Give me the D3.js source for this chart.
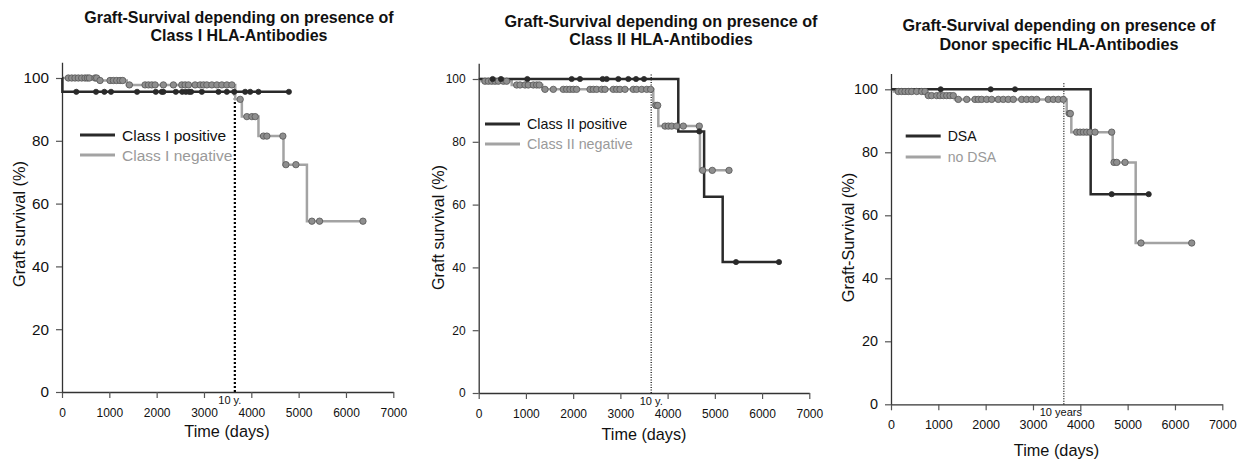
<!DOCTYPE html>
<html>
<head>
<meta charset="utf-8">
<script src="https://cdn.jsdelivr.net/npm/d3@7"></script>
<style>
  html, body { margin: 0; padding: 0; background: #fff; }
  svg { display: block; font-family: "Liberation Sans", Arial, Helvetica, sans-serif; }
</style>
</head>
<body>
<svg id="chart" width="1242" height="462"></svg>
<script>
// ---- Kaplan-Meier data (days, survival %) ----
// Step arrays: [time at which the estimate changes, new survival]
const classIPositiveSteps = [[0, 100], [8, 95.6]];
const classIPositiveCensored = [302, 719, 895, 1036, 1586, 1982, 2108, 2142, 2405, 2540, 2617, 2686, 2728, 2955, 3306, 3483, 3638, 3870, 3976, 4151, 4794];

const classINegativeSteps = [[0, 100], [768, 99.2], [1368, 97.8], [3660, 93.2], [3800, 87.7], [4151, 81.5], [4680, 72.4], [5175, 54.4]];
const classINegativeCensored = [134, 205, 275, 345, 416, 486, 536, 578, 698, 733,
  804, 1015, 1085, 1156, 1227, 1283,
  1424, 1755, 1826, 1897, 1967, 2142, 2354, 2531, 2601, 2672, 2813, 2919, 2989, 3060, 3166, 3272, 3377, 3483, 3589,
  3765, 3906, 4012, 4082, 4257, 4329, 4667, 4731, 4942, 5280, 5442, 6359];

const classIIPositiveSteps = [[0, 100], [4226, 83.3], [4773, 62.5], [5166, 41.7]];
const classIIPositiveCensored = [296, 472, 1029, 1969, 2145, 2625, 2710, 2956, 3168, 3331, 3500, 4671, 5448, 6358];

const classIINegativeSteps = [[0, 100], [60, 99.3], [699, 98.1], [1347, 96.7], [3697, 91.6], [3803, 85.0], [4685, 70.9]];
const classIINegativeCensored = [133, 204, 275, 345, 416, 522, 592,
  804, 875, 980, 1050, 1156, 1227, 1283,
  1404, 1580, 1791, 1862, 1932, 2003, 2073, 2357, 2427, 2498, 2604, 2674, 2850, 2921, 2992, 3097, 3273, 3344, 3451, 3557, 3641,
  3754, 3790, 3945, 4015, 4086, 4192, 4332, 4671, 4743, 4946, 5300];

const dsaSteps = [[0, 100], [4219, 66.7]];
const dsaCensored = [1050, 2107, 2620, 4663, 5445];

const noDsaSteps = [[0, 100], [60, 99.3], [740, 98.0], [1352, 96.8], [3712, 92.3], [3810, 86.4], [4684, 76.8], [5170, 51.2]];
const noDsaCensored = [154, 226, 296, 366, 437, 543, 649, 718,
  789, 860, 966, 1035, 1106, 1177, 1247, 1316,
  1422, 1600, 1775, 1845, 1916, 2022, 2128, 2267, 2373, 2478, 2584, 2762, 2867, 2973, 3078, 3324, 3430, 3535, 3641,
  3768, 3790, 3924, 3994, 4065, 4135, 4205, 4311, 4663, 4712, 4769, 4945, 5282, 6354];

// ---- Axis / label text ----
const xTicks = [0, 1000, 2000, 3000, 4000, 5000, 6000, 7000];
const yTicks = [0, 20, 40, 60, 80, 100];
const tenYearDays = 3652;
const titles = [
  ["Graft-Survival depending on presence of", "Class I HLA-Antibodies"],
  ["Graft-Survival depending on presence of", "Class II HLA-Antibodies"],
  ["Graft-Survival depending on presence of", "Donor specific HLA-Antibodies"]
];
const yLabels = ["Graft survival (%)", "Graft survival (%)", "Graft-Survival (%)"];
const xLabel = "Time (days)";
const markerLabels = ["10 y.", "10 y.", "10 years"];
const legendLabels = [
  ["Class I positive", "Class I negative"],
  ["Class II positive", "Class II negative"],
  ["DSA", "no DSA"]
];

// ---- Panel layout (pixels) ----
const panels = [
  { x0: 62, x1: 393.3, y0: 392, y100: 78, titleX: 239, titleY: [23, 40.5], titleSize: 16,
    yTickSize: 15.3, xTickSize: 12, labelSize: 16.3, yLabelX: 18.5, yLabelY: 224, xLabelX: 227, xLabelY: 437,
    legX: 80, legY: [135, 155], legSize: 15.5, markTop: 96, markW: 2.2, markDash: "2,2", markDx: -5,
    pos: [classIPositiveSteps, classIPositiveCensored], neg: [classINegativeSteps, classINegativeCensored] },
  { x0: 478.7, x1: 809.3, y0: 393, y100: 79, titleX: 661, titleY: [26.5, 44.5], titleSize: 16.2,
    yTickSize: 12, xTickSize: 12, labelSize: 16.2, yLabelX: 437.5, yLabelY: 227.5, xLabelX: 644, xLabelY: 440,
    legX: 485, legY: [124, 144], legSize: 14.3, markTop: 101.8, markW: 1.2, markDash: "1,1.5", markDx: 0,
    pos: [classIIPositiveSteps, classIIPositiveCensored], neg: [classIINegativeSteps, classIINegativeCensored] },
  { x0: 891, x1: 1222.3, y0: 404.3, y100: 89.3, titleX: 1059, titleY: [31, 49.5], titleSize: 16.2,
    yTickSize: 14.4, xTickSize: 12.5, labelSize: 16.3, yLabelX: 847.5, yLabelY: 237.5, xLabelX: 1056.5, xLabelY: 456,
    legX: 905.7, legY: [136, 157], legSize: 14.1, markTop: 102, markW: 1.2, markDash: "1,1.5", markDx: -3,
    pos: [dsaSteps, dsaCensored], neg: [noDsaSteps, noDsaCensored] }
];

const DARK = "#2a2a2a";
const GREY = "#a3a3a3";
const svg = d3.select("#chart");

function survivalAt(steps, t) {
  let s = steps[0][1];
  for (const [st, sv] of steps) { if (st <= t) s = sv; }
  return s;
}

function curvePoints(steps, censored) {
  const pts = steps.map(d => [d[0], d[1]]);
  const end = Math.max(d3.max(censored), steps[steps.length - 1][0]);
  pts.push([end, steps[steps.length - 1][1]]);
  return pts;
}

panels.forEach((p, i) => {
  const x = d3.scaleLinear().domain([0, 7000]).range([p.x0, p.x1]);
  const y = d3.scaleLinear().domain([0, 100]).range([p.y0, p.y100]);
  const yTop = y.copy().domain([0, 105]).range([p.y0, p.y0 - (p.y0 - p.y100) * 1.05]);
  const g = svg.append("g");

  // title
  titles[i].forEach((t, k) => {
    g.append("text").attr("x", p.titleX).attr("y", p.titleY[k])
      .attr("text-anchor", "middle").attr("font-weight", "bold")
      .attr("font-size", p.titleSize).attr("fill", "#111").text(t);
  });

  // axes
  const xAxis = g.append("g").attr("transform", `translate(0,${p.y0})`)
    .call(d3.axisBottom(x).tickValues(xTicks).tickFormat(d3.format("d")).tickSize(6).tickSizeOuter(0).tickPadding(10));
  xAxis.selectAll("text").attr("font-size", p.xTickSize).attr("fill", "#111").attr("font-family", "Liberation Sans, Arial, sans-serif");

  const yAxis = g.append("g").attr("transform", `translate(${p.x0},0)`)
    .call(d3.axisLeft(yTop).tickValues(yTicks).tickSize(6).tickSizeOuter(0).tickPadding(7));
  yAxis.selectAll("text").attr("font-size", p.yTickSize).attr("fill", "#111").attr("font-family", "Liberation Sans, Arial, sans-serif");

  [xAxis, yAxis].forEach(a => {
    a.select(".domain").attr("stroke", "#333").attr("stroke-width", 1.3);
    a.selectAll(".tick line").attr("stroke", "#555").attr("stroke-width", 1.2);
  });

  // axis titles
  g.append("text").attr("x", p.xLabelX).attr("y", p.xLabelY).attr("text-anchor", "middle")
    .attr("font-size", p.labelSize).attr("fill", "#111").text(xLabel);
  g.append("text").attr("transform", `translate(${p.yLabelX},${p.yLabelY}) rotate(-90)`)
    .attr("text-anchor", "middle").attr("dominant-baseline", "central")
    .attr("font-size", p.labelSize).attr("fill", "#111").text(yLabels[i]);

  // 10-year marker
  g.append("line").attr("x1", x(tenYearDays)).attr("x2", x(tenYearDays))
    .attr("y1", y(0)).attr("y2", y(p.markTop))
    .attr("stroke", "#000").attr("stroke-width", p.markW).attr("stroke-dasharray", p.markDash);
  g.append("text").attr("x", x(tenYearDays) + p.markDx).attr("y", y(0) + 12)
    .attr("text-anchor", "middle").attr("font-size", 11).attr("fill", "#111").text(markerLabels[i]);

  // survival curves
  const line = d3.line().x(d => x(d[0])).y(d => y(d[1])).curve(d3.curveStepAfter);
  const series = [
    { data: p.neg, color: GREY, dotFill: "#8e8e8e", dotStroke: "#555", r: 3.2 },
    { data: p.pos, color: DARK, dotFill: DARK, dotStroke: DARK, r: 2.6 }
  ];
  series.forEach(s => {
    g.append("path").datum(curvePoints(s.data[0], s.data[1]))
      .attr("d", line).attr("fill", "none").attr("stroke", s.color).attr("stroke-width", 2.5);
  });
  series.forEach(s => {
    g.selectAll(null).data(s.data[1]).enter().append("circle")
      .attr("cx", d => x(d)).attr("cy", d => y(survivalAt(s.data[0], d)))
      .attr("r", s.r).attr("fill", s.dotFill).attr("stroke", s.dotStroke).attr("stroke-width", 0.8);
  });

  // legend
  [DARK, GREY].forEach((c, k) => {
    g.append("line").attr("x1", p.legX).attr("x2", p.legX + 35)
      .attr("y1", p.legY[k]).attr("y2", p.legY[k])
      .attr("stroke", c).attr("stroke-width", 2.8);
    g.append("text").attr("x", p.legX + 42).attr("y", p.legY[k])
      .attr("dominant-baseline", "central").attr("font-size", p.legSize)
      .attr("fill", k === 0 ? "#111" : "#9a9a9a").text(legendLabels[i][k]);
  });
});
</script>
</body>
</html>
